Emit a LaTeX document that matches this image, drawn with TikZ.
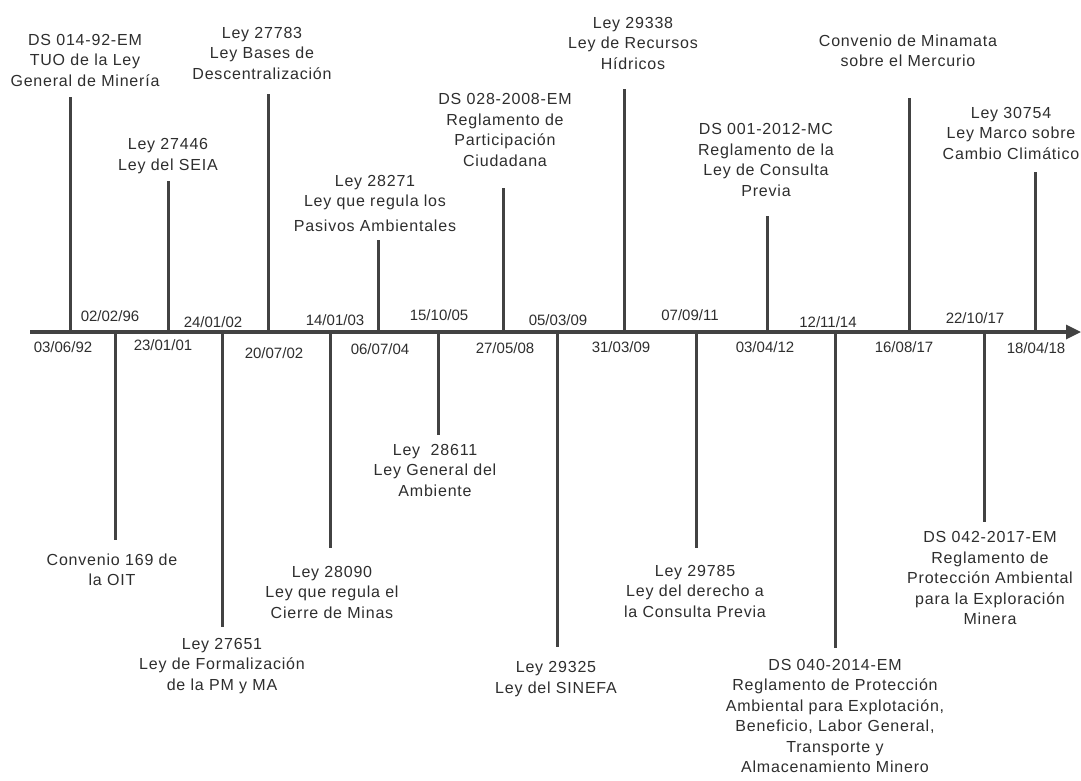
\documentclass[tikz,border=0pt]{standalone}
\usepackage{fontspec}
\setmainfont{Liberation Sans}
\newfontfamily\lblfam{Liberation Sans}[LetterSpace=5]
\usetikzlibrary{arrows.meta}

\definecolor{ink}{gray}{0.18}
\definecolor{rulegray}{gray}{0.26}

\newcommand\lblfont{\lblfam\fontsize{16}{20.5}\selectfont}
\newcommand\datefont{\fontsize{15}{18}\selectfont}

\tikzset{
  lbl/.style={align=center, inner sep=0pt, text=ink, font=\lblfont},
  datelbl/.style={inner sep=0pt, text=ink, font=\datefont},
  stem/.style={draw=rulegray, line width=3pt},
  axisline/.style={draw=rulegray, line width=3.2pt, -{Triangle[length=15pt,width=14pt]}},
}

\begin{document}
\begin{tikzpicture}[x=1pt, y=-1pt]
\useasboundingbox (0,0) rectangle (1081,780);
\fill[white] (0,0) rectangle (1081,780);

% time axis
\coordinate (ax0) at (30,332);
\coordinate (ax1) at (1081,332);
\draw[axisline] (ax0) -- (ax1);

% ---------- events above the axis ----------
% DS 014-92-EM
\coordinate (a1) at (70,332); \coordinate (e1) at (70,97);
\draw[stem] (a1) -- (e1);
\node[lbl] (t1) at (85,60) {DS 014-92-EM\\TUO de la Ley\\General de Minería};
\node[datelbl] (d1) at (63,347) {03/06/92};

% Ley 27446
\coordinate (a3) at (168,332); \coordinate (e3) at (168,181);
\draw[stem] (a3) -- (e3);
\node[lbl] (t3) at (168,156) {Ley 27446\\Ley del SEIA};
\node[datelbl] (d3) at (163,345) {23/01/01};

% Ley 27783
\coordinate (a5) at (268,332); \coordinate (e5) at (268,94);
\draw[stem] (a5) -- (e5);
\node[lbl] (t5) at (262,53) {Ley 27783\\Ley Bases de\\Descentralización};
\node[datelbl] (d5) at (274,353) {20/07/02};

% Ley 28271
\coordinate (a7) at (378,332); \coordinate (e7) at (378,240);
\draw[stem] (a7) -- (e7);
\node[lbl] (t7) at (375,203) {Ley 28271\\Ley que regula los\\[4pt]Pasivos Ambientales};
\node[datelbl] (d7) at (380,349) {06/07/04};

% DS 028-2008-EM
\coordinate (a9) at (503,332); \coordinate (e9) at (503,188);
\draw[stem] (a9) -- (e9);
\node[lbl] (t9) at (505,130) {DS 028-2008-EM\\Reglamento de\\Participación\\Ciudadana};
\node[datelbl] (d9) at (505,348) {27/05/08};

% Ley 29338
\coordinate (a11) at (624,332); \coordinate (e11) at (624,89);
\draw[stem] (a11) -- (e11);
\node[lbl] (t11) at (633,43) {Ley 29338\\Ley de Recursos\\Hídricos};
\node[datelbl] (d11) at (621,347) {31/03/09};

% DS 001-2012-MC
\coordinate (a13) at (767,332); \coordinate (e13) at (767,216);
\draw[stem] (a13) -- (e13);
\node[lbl] (t13) at (766,160) {DS 001-2012-MC\\Reglamento de la\\Ley de Consulta\\Previa};
\node[datelbl] (d13) at (765,347) {03/04/12};

% Convenio de Minamata
\coordinate (a15) at (909,332); \coordinate (e15) at (909,98);
\draw[stem] (a15) -- (e15);
\node[lbl] (t15) at (908,51) {Convenio de Minamata\\sobre el Mercurio};
\node[datelbl] (d15) at (904,347) {16/08/17};

% Ley 30754
\coordinate (a17) at (1035,332); \coordinate (e17) at (1035,172);
\draw[stem] (a17) -- (e17);
\node[lbl] (t17) at (1011,133) {Ley 30754\\Ley Marco sobre\\Cambio Climático};
\node[datelbl] (d17) at (1036,348) {18/04/18};

% ---------- events below the axis ----------
% Convenio 169
\coordinate (a2) at (115,332); \coordinate (e2) at (115,540);
\draw[stem] (a2) -- (e2);
\node[lbl] (t2) at (112,570) {Convenio 169 de\\la OIT};
\node[datelbl] (d2) at (110,316) {02/02/96};

% Ley 27651
\coordinate (a4) at (222,332); \coordinate (e4) at (222,627);
\draw[stem] (a4) -- (e4);
\node[lbl] (t4) at (222,666) {Ley 27651\\Ley de Formalización\\de la PM y MA};
\node[datelbl] (d4) at (213,322) {24/01/02};

% Ley 28090
\coordinate (a6) at (330,332); \coordinate (e6) at (330,548);
\draw[stem] (a6) -- (e6);
\node[lbl] (t6) at (332,592) {Ley 28090\\Ley que regula el\\Cierre de Minas};
\node[datelbl] (d6) at (335,320) {14/01/03};

% Ley 28611
\coordinate (a8) at (438,332); \coordinate (e8) at (438,435);
\draw[stem] (a8) -- (e8);
\node[lbl] (t8) at (435,470) {Ley~ 28611\\Ley General del\\Ambiente};
\node[datelbl] (d8) at (439,315) {15/10/05};

% Ley 29325
\coordinate (a10) at (557,332); \coordinate (e10) at (557,647);
\draw[stem] (a10) -- (e10);
\node[lbl] (t10) at (556,679) {Ley 29325\\Ley del SINEFA};
\node[datelbl] (d10) at (558,320) {05/03/09};

% Ley 29785
\coordinate (a12) at (696,332); \coordinate (e12) at (696,548);
\draw[stem] (a12) -- (e12);
\node[lbl] (t12) at (695,591) {Ley 29785\\Ley del derecho a\\la Consulta Previa};
\node[datelbl] (d12) at (690,315) {07/09/11};

% DS 040-2014-EM
\coordinate (a14) at (835,332); \coordinate (e14) at (835,648);
\draw[stem] (a14) -- (e14);
\node[lbl] (t14) at (835,716) {DS 040-2014-EM\\Reglamento de Protección\\Ambiental para Explotación,\\Beneficio, Labor General,\\Transporte y\\Almacenamiento Minero};
\node[datelbl] (d14) at (828,322) {12/11/14};

% DS 042-2017-EM
\coordinate (a16) at (984,332); \coordinate (e16) at (984,522);
\draw[stem] (a16) -- (e16);
\node[lbl] (t16) at (990,578) {DS 042-2017-EM\\Reglamento de\\Protección Ambiental\\para la Exploración\\Minera};
\node[datelbl] (d16) at (975,318) {22/10/17};
\end{tikzpicture}
\end{document}
